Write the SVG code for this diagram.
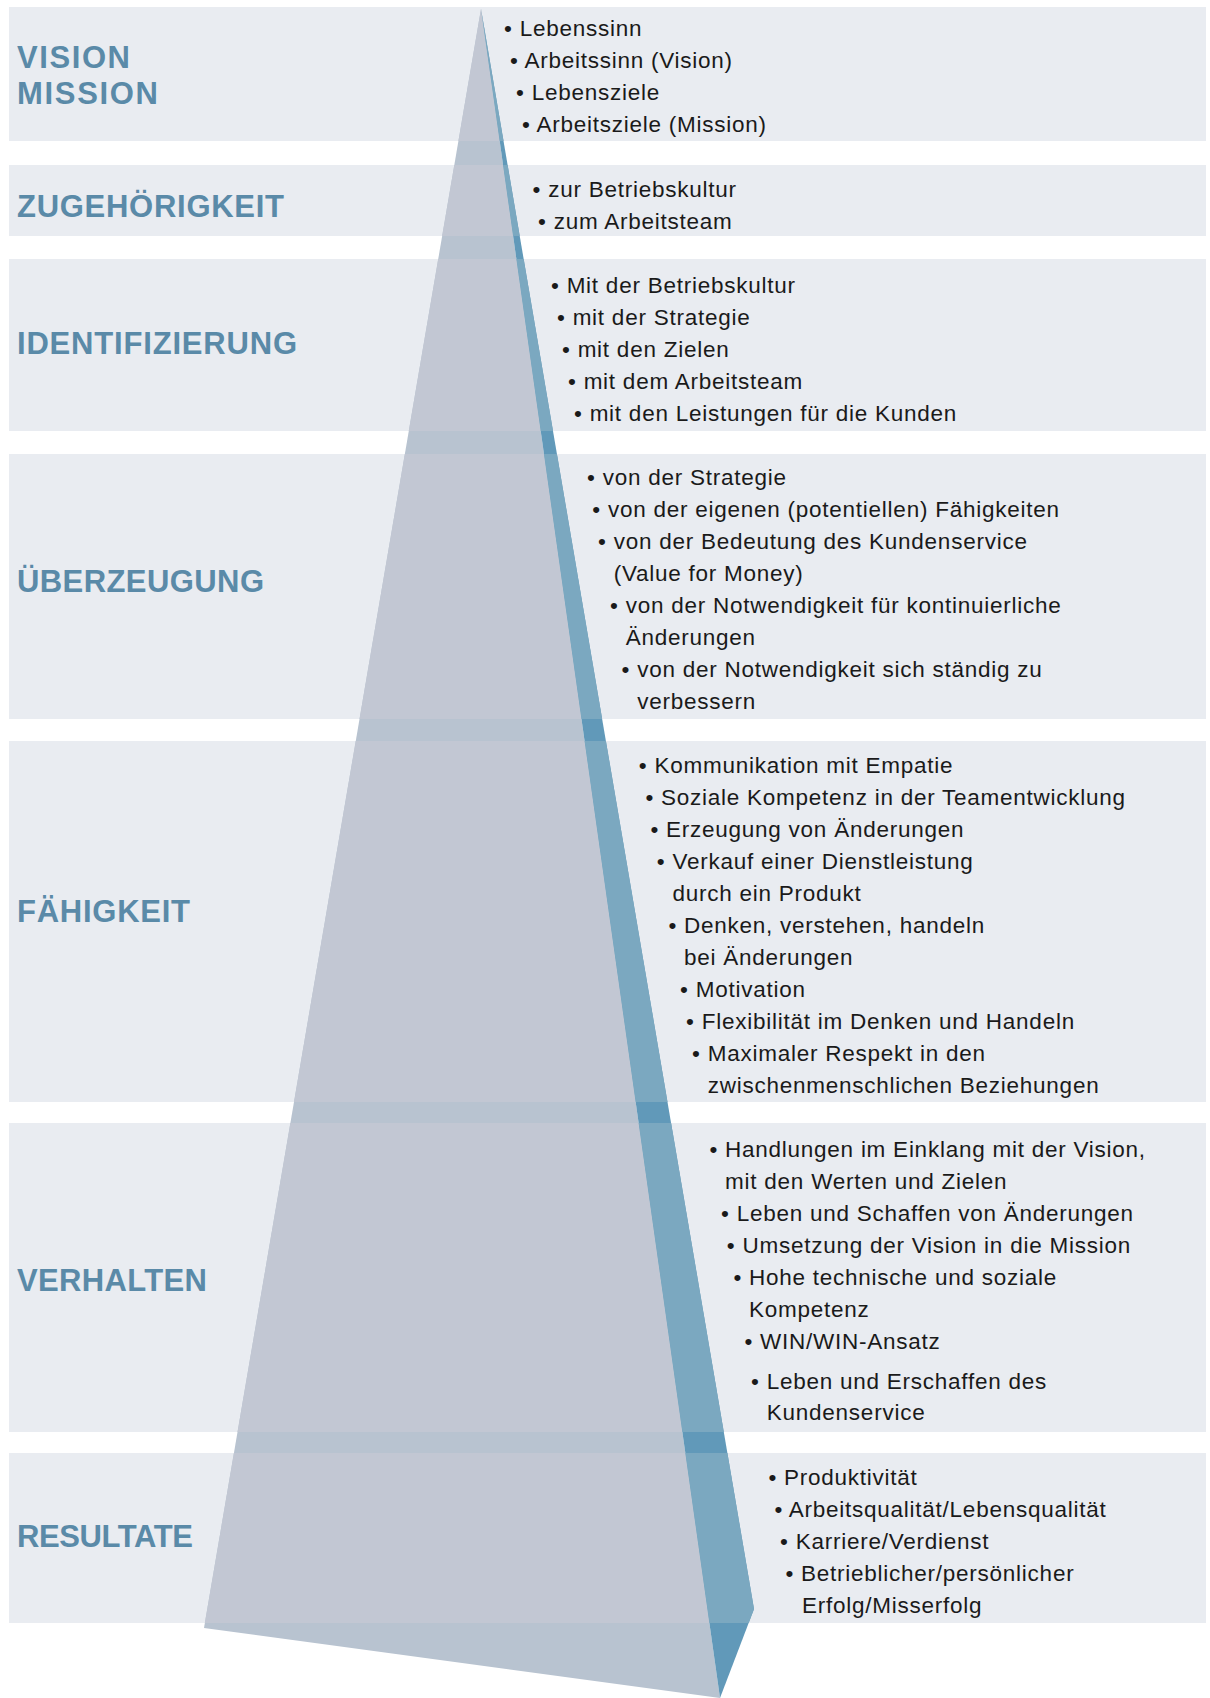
<svg xmlns="http://www.w3.org/2000/svg" width="1210" height="1698" viewBox="0 0 1210 1698">
<style>
.band{fill:#e9ecf1}
.title{font-family:"Liberation Sans",Arial,sans-serif;font-weight:bold;font-size:31px;fill:#5a8aa8}
.item{font-family:"Liberation Sans",Arial,sans-serif;font-size:22.5px;letter-spacing:0.75px;fill:#1a1a1a}
</style>
<defs>
<clipPath id="bandClip">
<rect x="9" y="7" width="1197" height="134"/>
<rect x="9" y="165" width="1197" height="71"/>
<rect x="9" y="259" width="1197" height="172"/>
<rect x="9" y="454" width="1197" height="265"/>
<rect x="9" y="741" width="1197" height="361"/>
<rect x="9" y="1123" width="1197" height="309"/>
<rect x="9" y="1453" width="1197" height="170"/>
</clipPath>
</defs>
<rect width="1210" height="1698" fill="#ffffff"/>
<g id="bands">
<rect class="band" x="9" y="7" width="1197" height="134"/>
<rect class="band" x="9" y="165" width="1197" height="71"/>
<rect class="band" x="9" y="259" width="1197" height="172"/>
<rect class="band" x="9" y="454" width="1197" height="265"/>
<rect class="band" x="9" y="741" width="1197" height="361"/>
<rect class="band" x="9" y="1123" width="1197" height="309"/>
<rect class="band" x="9" y="1453" width="1197" height="170"/>
</g>
<g id="pyramid">
<polygon points="481,9 204,1628 720,1698" fill="#b8c3d0"/>
<polygon points="481,9 754,1609 720,1698" fill="#6199b9"/>
<g clip-path="url(#bandClip)">
<polygon points="481,9 204,1628 720,1698" fill="#c2c7d3"/>
<polygon points="481,9 754,1609 720,1698" fill="#7ba8c0"/>
</g>
</g>
<g id="level-vision">
<text class="title" x="17" y="67.7" textLength="113">VISION</text>
<text class="title" x="17" y="104.3" textLength="141">MISSION</text>
<text class="item" x="504" y="36">• Lebenssinn</text>
<text class="item" x="510" y="68">• Arbeitssinn (Vision)</text>
<text class="item" x="516" y="100">• Lebensziele</text>
<text class="item" x="522" y="132">• Arbeitsziele (Mission)</text>
</g>
<g id="level-zugehoerigkeit">
<text class="title" x="17" y="217.3" textLength="267">ZUGEHÖRIGKEIT</text>
<text class="item" x="532.5" y="196.5">• zur Betriebskultur</text>
<text class="item" x="538" y="228.6">• zum Arbeitsteam</text>
</g>
<g id="level-identifizierung">
<text class="title" x="17" y="354.3" textLength="280">IDENTIFIZIERUNG</text>
<text class="item" x="551" y="292.6">• Mit der Betriebskultur</text>
<text class="item" x="557" y="324.5">• mit der Strategie</text>
<text class="item" x="562" y="356.5">• mit den Zielen</text>
<text class="item" x="568" y="388.5">• mit dem Arbeitsteam</text>
<text class="item" x="574" y="420.7">• mit den Leistungen für die Kunden</text>
</g>
<g id="level-ueberzeugung">
<text class="title" x="17" y="591.7" textLength="247">ÜBERZEUGUNG</text>
<text class="item" x="587" y="485">• von der Strategie</text>
<text class="item" x="592.3" y="517">• von der eigenen (potentiellen) Fähigkeiten</text>
<text class="item" x="598" y="549">• von der Bedeutung des Kundenservice</text>
<text class="item" x="613.7" y="581">(Value for Money)</text>
<text class="item" x="610" y="613">• von der Notwendigkeit für kontinuierliche</text>
<text class="item" x="625.7" y="645">Änderungen</text>
<text class="item" x="621.5" y="677">• von der Notwendigkeit sich ständig zu</text>
<text class="item" x="637.2" y="708.5">verbessern</text>
</g>
<g id="level-faehigkeit">
<text class="title" x="17" y="922.3" textLength="173">FÄHIGKEIT</text>
<text class="item" x="638.8" y="772.7">• Kommunikation mit Empatie</text>
<text class="item" x="645.4" y="804.5">• Soziale Kompetenz in der Teamentwicklung</text>
<text class="item" x="650.4" y="836.7">• Erzeugung von Änderungen</text>
<text class="item" x="656.8" y="868.7">• Verkauf einer Dienstleistung</text>
<text class="item" x="672.5" y="900.7">durch ein Produkt</text>
<text class="item" x="668.4" y="932.7">• Denken, verstehen, handeln</text>
<text class="item" x="684" y="964.7">bei Änderungen</text>
<text class="item" x="680.1" y="996.7">• Motivation</text>
<text class="item" x="686.1" y="1028.5">• Flexibilität im Denken und Handeln</text>
<text class="item" x="692.1" y="1060.7">• Maximaler Respekt in den</text>
<text class="item" x="707.7" y="1092.7">zwischenmenschlichen Beziehungen</text>
</g>
<g id="level-verhalten">
<text class="title" x="17" y="1291" textLength="190">VERHALTEN</text>
<text class="item" x="709.4" y="1157">• Handlungen im Einklang mit der Vision,</text>
<text class="item" x="725.1" y="1188.7">mit den Werten und Zielen</text>
<text class="item" x="721.1" y="1221">• Leben und Schaffen von Änderungen</text>
<text class="item" x="726.8" y="1252.7">• Umsetzung der Vision in die Mission</text>
<text class="item" x="733.4" y="1284.7">• Hohe technische und soziale</text>
<text class="item" x="749" y="1317">Kompetenz</text>
<text class="item" x="744.4" y="1348.7">• WIN/WIN-Ansatz</text>
<text class="item" x="751.1" y="1388.7">• Leben und Erschaffen des</text>
<text class="item" x="766.8" y="1420.3">Kundenservice</text>
</g>
<g id="level-resultate">
<text class="title" x="17" y="1547" textLength="176">RESULTATE</text>
<text class="item" x="768.4" y="1485.3">• Produktivität</text>
<text class="item" x="774.4" y="1517">• Arbeitsqualität/Lebensqualität</text>
<text class="item" x="780.1" y="1548.7">• Karriere/Verdienst</text>
<text class="item" x="785.4" y="1581">• Betrieblicher/persönlicher</text>
<text class="item" x="802" y="1613">Erfolg/Misserfolg</text>
</g>
</svg>
